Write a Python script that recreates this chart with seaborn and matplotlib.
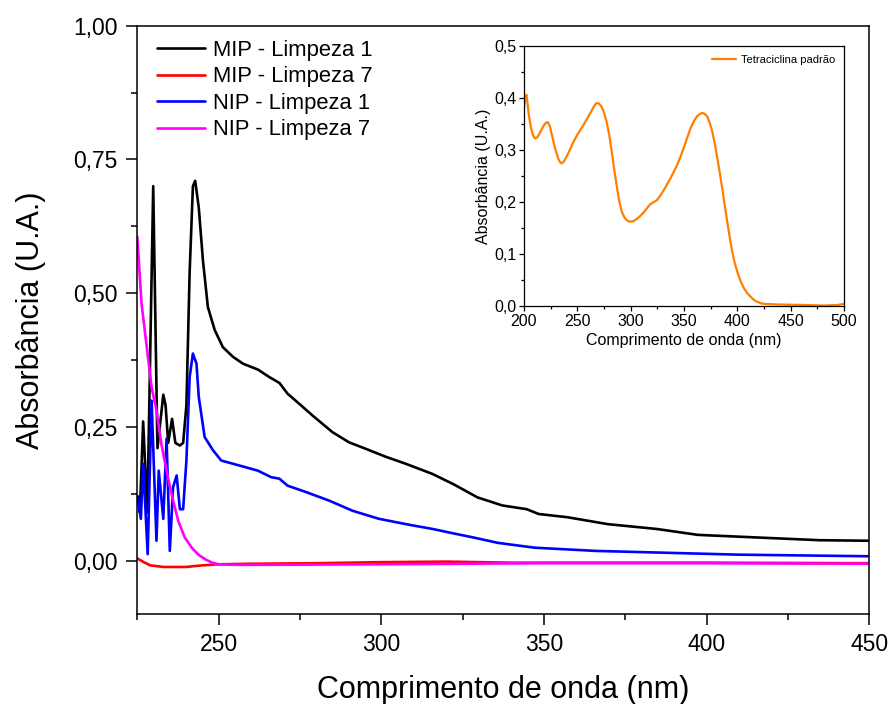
import numpy as np
import pandas as pd
import matplotlib
matplotlib.use('Agg')
import matplotlib.pyplot as plt
import seaborn as sns
from matplotlib.ticker import MultipleLocator, FuncFormatter

# main spectra
mip1_x = [225.2, 225.8, 226.8, 228.1, 229.9, 231.2, 233.0, 233.7, 234.5, 235.7, 236.7, 238.1,
          239.1, 240.1, 241.1, 242.1, 242.8, 243.9, 245.2, 246.7, 248.8, 251.3, 254.4, 257.5,
          262.1, 265.6, 268.7, 271.2, 274.8, 278.9, 285.0, 290.1, 295.2, 301.4, 307.5, 315.7,
          322.1, 329.6, 337.2, 344.7, 348.4, 357.2, 369.7, 384.7, 397.3, 416.0, 434.8, 450.0]
mip1_y = [0.12, 0.09, 0.26, 0.09, 0.70, 0.21, 0.31, 0.29, 0.22, 0.265, 0.22, 0.215,
          0.22, 0.29, 0.54, 0.70, 0.71, 0.66, 0.56, 0.474, 0.431, 0.399, 0.381, 0.368,
          0.357, 0.343, 0.332, 0.312, 0.293, 0.271, 0.240, 0.221, 0.209, 0.194, 0.181, 0.162,
          0.143, 0.118, 0.103, 0.096, 0.087, 0.081, 0.068, 0.059, 0.048, 0.043, 0.038, 0.037]

mip7_x = [225, 227, 229, 233, 240, 245, 250, 260, 280, 300, 320, 340, 360, 400, 450]
mip7_y = [0.004, -0.003, -0.009, -0.012, -0.012, -0.009, -0.007, -0.006, -0.005, -0.003,
          -0.002, -0.004, -0.004, -0.004, -0.005]

nip1_x = [225.1, 226.1, 226.8, 228.2, 229.4, 230.9, 231.6, 233.0, 234.0, 235.0, 236.0, 237.1,
          238.1, 239.1, 240.1, 241.1, 242.1, 243.2, 243.9, 245.7, 248.3, 250.8, 254.4, 262.1,
          266.1, 268.7, 271.2, 276.9, 284.0, 291.2, 299.3, 308.5, 315.8, 322.0, 328.4, 335.9,
          347.2, 366.0, 384.7, 409.8, 450.0]
nip1_y = [0.118, 0.078, 0.181, 0.012, 0.299, 0.037, 0.168, 0.078, 0.228, 0.018, 0.137, 0.159,
          0.096, 0.096, 0.187, 0.343, 0.387, 0.368, 0.306, 0.231, 0.206, 0.187, 0.181, 0.168,
          0.156, 0.153, 0.140, 0.128, 0.112, 0.093, 0.078, 0.067, 0.059, 0.051, 0.043, 0.033,
          0.024, 0.018, 0.015, 0.011, 0.008]

nip7_x = [225.0, 226.3, 227.9, 229.4, 230.9, 232.4, 234.0, 235.5, 237.6, 239.6, 242.0, 244.0,
          246.0, 248.0, 250.0, 255.0, 260.0, 300.0, 350.0, 400.0, 450.0]
nip7_y = [0.606, 0.481, 0.40, 0.324, 0.281, 0.218, 0.168, 0.125, 0.074, 0.043, 0.022, 0.010,
          0.002, -0.004, -0.007, -0.008, -0.008, -0.007, -0.005, -0.005, -0.006]

# inset: standard tetracycline
tc_x = [200, 201.3, 202.3, 203.2, 204.5, 206.5, 208.5, 210.3, 212.5, 215, 218, 220.5, 222.3,
        224.2, 226.5, 229, 232, 233.7, 235.3, 237.2, 240, 243, 246.3, 250, 255.6, 259.5, 263.4,
        266, 268.1, 270.3, 272.8, 275, 277.5, 280, 282.2, 284.5, 286.9, 289.2, 291.6, 294,
        296.3, 298.2, 300, 302.5, 305.6, 308.5, 311.9, 315, 318.1, 321, 324.4, 327.5, 330.6,
        334, 337.5, 340.5, 343.8, 347, 350, 353, 356.3, 359.5, 362.5, 365, 367.2, 369.5, 371.9,
        374.2, 376.6, 379, 381.3, 383.6, 385.9, 388.2, 390.6, 393, 395.3, 397.6, 400, 403,
        406.3, 409.3, 412.5, 415.5, 418.8, 422.5, 426.6, 437.5, 462.5, 481.3, 493.8, 500]
tc_y = [0.380, 0.400, 0.406, 0.392, 0.368, 0.343, 0.328, 0.322, 0.324, 0.333, 0.345, 0.352,
        0.353, 0.346, 0.326, 0.304, 0.284, 0.277, 0.274, 0.277, 0.287, 0.300, 0.315, 0.329,
        0.347, 0.361, 0.375, 0.385, 0.390, 0.389, 0.383, 0.372, 0.354, 0.328, 0.298, 0.264,
        0.232, 0.203, 0.182, 0.171, 0.165, 0.163, 0.162, 0.163, 0.167, 0.172, 0.179, 0.187,
        0.195, 0.199, 0.203, 0.211, 0.221, 0.233, 0.246, 0.258, 0.272, 0.288, 0.305, 0.323,
        0.342, 0.356, 0.365, 0.369, 0.371, 0.369, 0.364, 0.352, 0.335, 0.311, 0.284, 0.256,
        0.226, 0.194, 0.162, 0.131, 0.104, 0.083, 0.066, 0.048, 0.034, 0.025, 0.018, 0.012,
        0.008, 0.005, 0.004, 0.003, 0.002, 0.001, 0.002, 0.004]

series = [
    ('MIP - Limpeza 1', mip1_x, mip1_y, 'black'),
    ('MIP - Limpeza 7', mip7_x, mip7_y, 'red'),
    ('NIP - Limpeza 1', nip1_x, nip1_y, 'blue'),
    ('NIP - Limpeza 7', nip7_x, nip7_y, 'magenta'),
]

sns.set_style('ticks')
plt.rcParams['font.family'] = ['Liberation Sans', 'DejaVu Sans']
plt.rcParams.update({'text.color': 'black', 'axes.labelcolor': 'black',
                     'xtick.color': 'black', 'ytick.color': 'black'})

fig = plt.figure(figsize=(8.92, 7.04), dpi=100)
ax = fig.add_axes([0.1539, 0.1278, 0.8206, 0.8357])

for name, xs, ys, col in series:
    df = pd.DataFrame({'x': xs, 'y': ys})
    sns.lineplot(data=df, x='x', y='y', ax=ax, color=col, lw=1.9, label=name,
                 sort=False, estimator=None)

ax.set_xlim(225, 450)
ax.set_ylim(-0.1, 1.0)
ax.xaxis.set_major_locator(MultipleLocator(50))
ax.xaxis.set_minor_locator(MultipleLocator(25))
ax.yaxis.set_major_locator(MultipleLocator(0.25))
ax.yaxis.set_minor_locator(MultipleLocator(0.125))
ax.yaxis.set_major_formatter(FuncFormatter(lambda v, p: f'{v:.2f}'.replace('.', ',')))
ax.tick_params(which='major', length=8, width=1.1, labelsize=16.5, direction='out', pad=6)
ax.tick_params(which='minor', length=4.5, width=1.1, direction='out')
for s in ax.spines.values():
    s.set_linewidth(1.1)
    s.set_color('black')
ax.set_xlabel('Comprimento de onda (nm)', fontsize=22, labelpad=13)
ax.set_ylabel('Absorbância (U.A.)', fontsize=22, labelpad=20)
ax.legend(loc='upper left', bbox_to_anchor=(0.007, 1.0), frameon=False, fontsize=15.8,
          handlelength=2.2, handletextpad=0.35, labelspacing=0.25, borderaxespad=0.25)

# inset
ins = fig.add_axes([0.5874, 0.5653, 0.3587, 0.3697])
sns.lineplot(data=pd.DataFrame({'x': tc_x, 'y': tc_y}), x='x', y='y', ax=ins,
             color='#ff7f00', lw=1.6, label='Tetraciclina padrão', sort=False, estimator=None)
ins.set_xlim(200, 500)
ins.set_ylim(0, 0.5)
ins.xaxis.set_major_locator(MultipleLocator(50))
ins.xaxis.set_minor_locator(MultipleLocator(25))
ins.yaxis.set_major_locator(MultipleLocator(0.1))
ins.yaxis.set_minor_locator(MultipleLocator(0.05))
ins.yaxis.set_major_formatter(FuncFormatter(lambda v, p: f'{v:.1f}'.replace('.', ',')))
ins.tick_params(which='major', length=3.5, width=0.9, labelsize=11.5, pad=2)
ins.tick_params(which='minor', length=2, width=0.9)
for s in ins.spines.values():
    s.set_linewidth(0.9)
    s.set_color('black')
ins.set_xlabel('Comprimento de onda (nm)', fontsize=11.5, labelpad=3)
ins.set_ylabel('Absorbância (U.A.)', fontsize=11.5, labelpad=2)
ins.legend(loc='upper right', frameon=False, fontsize=8, handlelength=2.2,
           handletextpad=0.4, borderaxespad=0.4)

fig.savefig('out.png', dpi=100)
